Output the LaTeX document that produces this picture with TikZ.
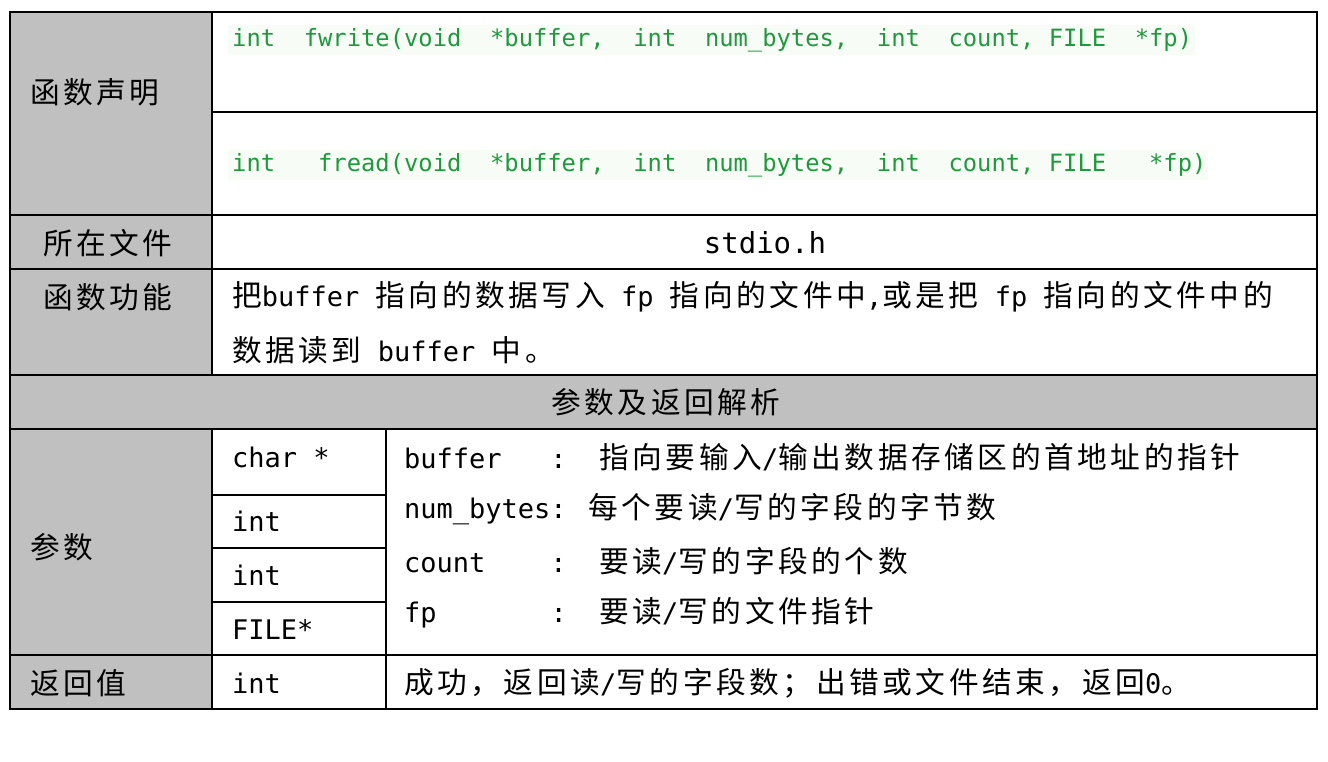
\documentclass[tikz,border=0pt]{standalone}
\usepackage{fontspec}
\newfontfamily\cn[LetterSpace=12,Scale=1.1]{Noto Sans CJK SC}
\newfontfamily\mn{DejaVu Sans Mono}
\definecolor{gr}{HTML}{C0C0C0}
\definecolor{code}{HTML}{1E9A3C}
\definecolor{codebg}{HTML}{F7FCF7}
\begin{document}
\begin{tikzpicture}[x=1pt,y=-1pt,
  line/.style={draw=black,line width=1.2pt},
  t/.style={anchor=west,inner sep=0pt,font=\fontsize{27}{30}\selectfont},
  cd/.style={anchor=west,inner sep=0pt,text=code,font=\mn\fontsize{23.8}{28}\selectfont}]
\useasboundingbox (0,0) rectangle (1328,761);
\fill[white] (0,0) rectangle (1328,761);
\fill[gr] (10,12) rectangle (212,709);
\fill[gr] (10,375) rectangle (1317,429);
\fill[codebg] (228,25) rectangle (1195,55);
\fill[codebg] (228,150) rectangle (1208,180);
% grid
\draw[line] (10,12) rectangle (1317,709);
\draw[line] (212,12) -- (212,375);
\draw[line] (212,429) -- (212,709);
\draw[line] (386,429) -- (386,709);
\draw[line] (212,112) -- (1317,112);
\foreach \y in {215,269,375,429,655} \draw[line] (10,\y) -- (1317,\y);
\foreach \y in {495,548,602} \draw[line] (212,\y) -- (386,\y);
% left column
\node[t] (a1) at (30,92) {\cn 函数声明};
\node[t] (a2) at (43,243) {\cn 所在文件};
\node[t] (a3) at (43,297) {\cn 函数功能};
\node[t,anchor=center] (a4) at (666,402) {\cn 参数及返回解析};
\node[t] (a5) at (30,547) {\cn 参数};
\node[t] (a6) at (30,683) {\cn 返回值};
% code
\node[cd] (c1) at (232,40) {int\ \ fwrite(void\ \ *buffer,\ \ int\ \ num\_bytes,\ \ int\ \ count, FILE\ \ *fp)};
\node[cd] (c2) at (232,165) {int\ \ \ fread(void\ \ *buffer,\ \ int\ \ num\_bytes,\ \ int\ \ count, FILE\ \ \ *fp)};
\node[inner sep=0pt,font=\mn\fontsize{29}{32}\selectfont] (f) at (765,243) {stdio.h};
\node[t] (d1) at (232,297) {{\cn 把}{\mn buffer }{\cn 指向的数据写入}{\mn\ fp }{\cn 指向的文件中}{\mn ,}{\cn 或是把}{\mn\ fp }{\cn 指向的文件中的}};
\node[t] (d2) at (232,350) {{\cn 数据读到}{\mn\ buffer }{\cn 中。}};
% types
\node[t] (p1) at (232,457) {\mn char *};
\node[t] (p2) at (232,521) {\mn int};
\node[t] (p3) at (232,575) {\mn int};
\node[t] (p4) at (232,629) {\mn FILE*};
\node[t] (p5) at (232,683) {\mn int};
% descriptions
\node[t] (q1) at (404,457) {{\mn buffer\ \ \ :\ \ }{\cn 指向要输入}{\mn /}{\cn 输出数据存储区的首地址的指针}};
\node[t] (q2) at (404,509) {{\mn num\_bytes: }{\cn 每个要读}{\mn /}{\cn 写的字段的字节数}};
\node[t] (q3) at (404,561) {{\mn count\ \ \ \ :\ \ }{\cn 要读}{\mn /}{\cn 写的字段的个数}};
\node[t] (q4) at (404,613) {{\mn fp\ \ \ \ \ \ \ :\ \ }{\cn 要读}{\mn /}{\cn 写的文件指针}};
\node[t] (q5) at (404,683) {{\cn 成功，返回读}{\mn /}{\cn 写的字段数；出错或文件结束，返回}{\mn 0}{\cn 。}};
\end{tikzpicture}
\end{document}
